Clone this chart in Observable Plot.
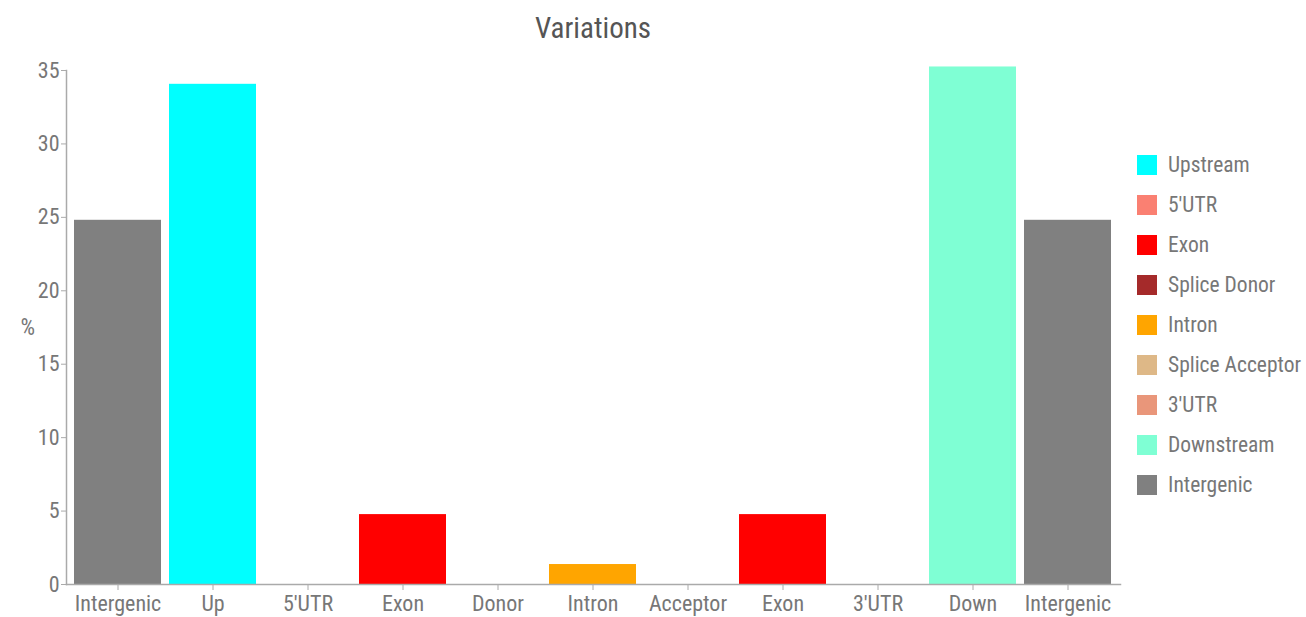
<!DOCTYPE html>
<html>
<head>
<meta charset="utf-8">
<script src="https://cdn.jsdelivr.net/npm/d3@7"></script>
<script src="https://cdn.jsdelivr.net/npm/@observablehq/plot@0.6"></script>
<style>
  html, body { margin: 0; padding: 0; background: #fff; }
  #wrap { position: relative; width: 1306px; height: 617px; font-family: "Liberation Sans Narrow", "Arial Narrow", "Roboto Condensed", "Liberation Sans", sans-serif; }
  #title { position: absolute; left: 0; top: 10px; width: 1186px; text-align: center; font-size: 29px; color: #555; line-height: 36px; }
  #chart { position: absolute; left: 0; top: 55px; }
  #legend { position: absolute; left: 1137px; top: 145px; }
  .item { display: flex; align-items: center; height: 40px; white-space: nowrap; }
  .item .sw { width: 20px; height: 20px; margin-right: 11px; flex: none; }
  .item span { font-size: 21.5px; color: #777; line-height: 20px; white-space: nowrap; }
</style>
</head>
<body>
<div id="wrap">
  <div id="title">Variations</div>
  <div id="chart"></div>
  <div id="legend"></div>
</div>
<script>
// Bars
const keys = ["Intergenic_a","Up","5'UTR","Exon_a","Donor","Intron","Acceptor","Exon_b","3'UTR","Down","Intergenic_b"];
const labels = ["Intergenic","Up","5'UTR","Exon","Donor","Intron","Acceptor","Exon","3'UTR","Down","Intergenic"];
const values = [24.8, 34.06, 0, 4.76, 0, 1.36, 0, 4.76, 0, 35.24, 24.8];
const barTypes = ["Intergenic","Upstream","5'UTR","Exon","Splice Donor","Intron","Splice Acceptor","Exon","3'UTR","Downstream","Intergenic"];

// Legend
const legendNames = ["Upstream","5'UTR","Exon","Splice Donor","Intron","Splice Acceptor","3'UTR","Downstream","Intergenic"];
const legendColors = ["#00ffff","#fa8072","#ff0000","#a52a2a","#ffa500","#deb887","#e9967a","#7fffd4","#808080"];

const yTicks = [0,5,10,15,20,25,30,35];

const data = keys.map((k, i) => ({key: k, label: labels[i], value: values[i], type: barTypes[i]}));
const labelOf = Object.fromEntries(keys.map((k, i) => [k, labels[i]]));

const fontFam = '"Liberation Sans Narrow", "Arial Narrow", "Roboto Condensed", "Liberation Sans", sans-serif';

const chart = Plot.plot({
  width: 1306,
  height: 562,
  marginLeft: 66,
  marginRight: 186,
  marginTop: 15,
  marginBottom: 33,
  style: {fontFamily: fontFam, fontSize: "22px", color: "#777", background: "transparent", overflow: "visible"},
  x: {domain: keys, padding: 0.08, label: null, tickFormat: d => labelOf[d], tickSize: 6},
  y: {domain: [0, 35], ticks: yTicks, label: null, tickSize: 5, clamp: false},
  color: {domain: legendNames, range: legendColors},
  marks: [
    Plot.barY(data, {x: "key", y: "value", fill: "type"}),
    Plot.axisY({ticks: yTicks, tickSize: 5, stroke: "#aaa", color: "#777", fontSize: 22, tickPadding: 2}),
    Plot.axisX({tickFormat: d => labelOf[d], tickSize: 6, stroke: "#aaa", color: "#777", fontSize: 22, tickPadding: 5}),
    Plot.frame({anchor: "left", stroke: "#aaa", strokeWidth: 1.5}),
    Plot.frame({anchor: "bottom", stroke: "#aaa", strokeWidth: 1.5}),
    Plot.text(["%"], {frameAnchor: "left", dx: -46, fill: "#777", fontSize: 23})
  ]
});
document.getElementById("chart").appendChild(chart);

const leg = document.getElementById("legend");
legendNames.forEach((n, i) => {
  const d = document.createElement("div");
  d.className = "item";
  d.innerHTML = `<div class="sw" style="background:${legendColors[i]}"></div><span></span>`;
  d.querySelector("span").textContent = n;
  leg.appendChild(d);
});
</script>
</body>
</html>
